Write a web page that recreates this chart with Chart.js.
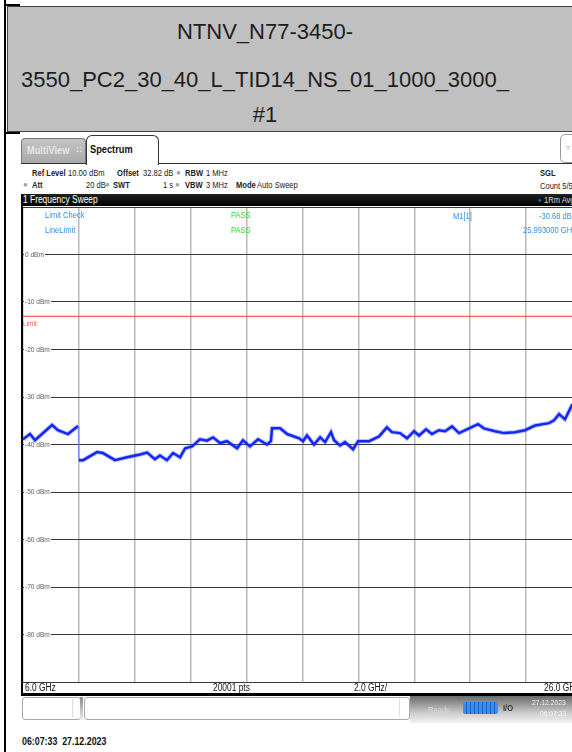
<!DOCTYPE html>
<html>
<head>
<meta charset="utf-8">
<script src="https://cdn.jsdelivr.net/npm/chart.js@4.4.0/dist/chart.umd.min.js"></script>
<style>
  body { margin:0; width:572px; height:752px; overflow:hidden; background:#fff; position:relative;
         font-family:"Liberation Sans",Arial,sans-serif; color:#222; }
  .a { position:absolute; white-space:nowrap; }
  .n { transform:scaleX(0.84); transform-origin:0 50%; }
  .hdr { position:absolute; left:7px; width:516px; text-align:center; font:22px/22px "Liberation Sans",Arial,sans-serif; color:#1e1e1e; }
  .s9 { font-size:9px; line-height:10px; }
  .b { font-weight:bold; }
  .dot { color:#a0a0a0; font-size:8px; line-height:10px; }
  .blu { color:#3391e6; font-size:9px; line-height:10px; }
  .grn { color:#2bd62b; font-size:9px; line-height:10px; }
  .ax { font-size:10px; line-height:11px; color:#111; }
</style>
</head>
<body>

<!-- page / table frame -->
<div class="a" style="left:4px;top:0;width:2px;height:752px;background:#000"></div>
<div class="a" style="left:4px;top:4px;width:16px;height:2px;background:#000"></div>
<div class="a" style="left:4px;top:132px;width:16px;height:2px;background:#000"></div>

<!-- title cell -->
<div class="a" style="left:7px;top:6px;width:580px;height:124px;background:#c0c0c0;border-top:1px solid #444;border-bottom:1px solid #444;border-left:1px solid #444"></div>
<div class="hdr" style="top:21px">NTNV_N77-3450-</div>
<div class="hdr" style="top:69px">3550_PC2_30_40_L_TID14_NS_01_1000_3000_</div>
<div class="hdr" style="top:104px">#1</div>

<!-- tabs -->
<div class="a" style="left:21px;top:163px;width:560px;height:1px;background:#333"></div>
<div class="a" style="left:21px;top:138px;width:63px;height:24px;background:linear-gradient(#c4c4c4,#a9a9a9);border:1px solid #777;border-bottom:none;border-radius:4px 4px 0 0"></div>
<div class="a b n" style="left:27px;top:144px;font-size:11px;line-height:12px;color:#e6e6e6">MultiView</div>
<div class="a b" style="left:76px;top:143px;font-size:9px;line-height:12px;color:#e6e6e6">::</div>
<div class="a" style="left:86px;top:135px;width:71px;height:29px;background:#fff;border:1px solid #333;border-bottom:none;border-radius:6px 6px 0 0"></div>
<div class="a b n" style="left:90px;top:143px;font-size:11px;line-height:12px;color:#111">Spectrum</div>
<div class="a" style="left:560px;top:134px;width:20px;height:27px;border:1px solid #999;border-radius:5px;background:#fff"></div>
<div class="a" style="left:566px;top:143px;font-size:8px;color:#aaa">▿</div>

<!-- settings lines -->
<div class="a s9 b n" style="left:32px;top:168px">Ref Level</div>
<div class="a s9 n" style="left:68px;top:168px">10.00 dBm</div>
<div class="a s9 b n" style="left:117px;top:168px">Offset</div>
<div class="a s9 n" style="left:143px;top:168px">32.82 dB</div>
<div class="a dot" style="left:176px;top:168px">●</div>
<div class="a s9 b n" style="left:185px;top:168px">RBW</div>
<div class="a s9 n" style="left:206px;top:168px">1 MHz</div>
<div class="a s9 b n" style="left:540px;top:168px">SGL</div>

<div class="a dot" style="left:23px;top:180px">●</div>
<div class="a s9 b n" style="left:32px;top:180px">Att</div>
<div class="a s9 n" style="left:86px;top:180px">20 dB</div>
<div class="a dot" style="left:105px;top:180px">●</div>
<div class="a s9 b n" style="left:113px;top:180px">SWT</div>
<div class="a s9 n" style="left:163px;top:180px">1 s</div>
<div class="a dot" style="left:175px;top:180px">●</div>
<div class="a s9 b n" style="left:185px;top:180px">VBW</div>
<div class="a s9 n" style="left:206px;top:180px">3 MHz</div>
<div class="a s9 b n" style="left:236px;top:180px">Mode</div>
<div class="a s9 n" style="left:257px;top:180px">Auto Sweep</div>
<div class="a s9 n" style="left:540px;top:181px">Count 5/5</div>

<!-- sweep title bar -->
<div class="a" style="left:21px;top:194px;width:560px;height:12px;background:linear-gradient(#222,#000)"></div>
<div class="a n" style="left:23px;top:194px;font-size:10px;line-height:12px;color:#fff">1 Frequency Sweep</div>
<div class="a" style="left:538px;top:194px;font-size:6px;line-height:12px;color:#2a6cff">●</div>
<div class="a n" style="left:544px;top:194px;font-size:9px;line-height:12px;color:#ddd">1Rm Avg</div>

<!-- plot -->
<canvas id="spectrumGraph" width="559" height="478" style="position:absolute;left:23px;top:205px"></canvas>
<div class="a" style="left:21px;top:194px;width:2px;height:502px;background:#000"></div>

<div class="a blu n" style="left:45px;top:210px">Limit Check</div>
<div class="a grn n" style="left:231px;top:210px">PASS</div>
<div class="a blu n" style="left:45px;top:225px">LineLimit</div>
<div class="a grn n" style="left:231px;top:225px">PASS</div>
<div class="a blu n" style="left:453px;top:211px">M1[1]</div>
<div class="a blu n" style="left:539px;top:211px">-30.68 dBm</div>
<div class="a blu n" style="left:523px;top:225px">25.993000 GHz</div>

<!-- axis info bar -->
<div class="a ax n" style="left:25px;top:682px">6.0 GHz</div>
<div class="a ax n" style="left:213px;top:682px">20001 pts</div>
<div class="a ax n" style="left:354px;top:682px">2.0 GHz/</div>
<div class="a ax n" style="left:544px;top:682px">26.0 GHz</div>
<div class="a" style="left:21px;top:693px;width:560px;height:3px;background:#000"></div>

<!-- status bar -->
<div class="a" style="left:22px;top:697px;width:57px;height:21px;border:1px solid #aaa;border-radius:3px"></div>
<div class="a" style="left:72px;top:699px;width:1px;height:18px;background:#ddd"></div>
<div class="a" style="left:80px;top:697px;width:3px;height:23px;background:linear-gradient(#888,#eee)"></div>
<div class="a" style="left:84px;top:697px;width:324px;height:21px;border:1px solid #aaa;border-radius:3px"></div>
<div class="a" style="left:399px;top:699px;width:1px;height:18px;background:#ddd"></div>
<div class="a" style="left:410px;top:696px;width:170px;height:27px;background:linear-gradient(#6a6a6a,#cfcfcf 65%,#f2f2f2)"></div>
<div class="a n" style="left:428px;top:705px;font-size:9px;color:#d8d8d8">Ready</div>
<div class="a" style="left:463px;top:702px;width:35px;height:12px;border-radius:2px;background:repeating-linear-gradient(90deg,#3a8ef0 0 3px,#1d5fc0 3px 4px)"></div>
<div class="a b n" style="left:503px;top:703px;font-size:9px;color:#333">I/O</div>
<div class="a n" style="left:532px;top:698px;font-size:8px;color:#eee">27.12.2023</div>
<div class="a n" style="left:540px;top:709px;font-size:8px;color:#f4f4f4">06:07:33</div>

<div class="a b n" style="left:22px;top:735px;font-size:10.5px;line-height:12px;color:#111">06:07:33&nbsp; 27.12.2023</div>

<script>
const spectrum_el = document.getElementById('spectrumGraph');
const ctx = spectrum_el.getContext('2d');

// trace (1Rm Avg), GHz / dBm
const freqGHz = [6.0, 6.25, 6.43, 7.04, 7.25, 7.61, 7.97, 8.0, 8.15, 8.65, 8.86, 9.29, 9.72, 10.19, 10.44,
  10.72, 10.9, 11.15, 11.37, 11.62, 11.8, 12.05, 12.33, 12.58, 12.8, 13.05, 13.3, 13.66, 13.87, 14.12,
  14.41, 14.73, 14.87, 14.91, 15.2, 15.45, 15.88, 16.02, 16.16, 16.41, 16.63, 16.81, 17.02, 17.13, 17.34,
  17.52, 17.81, 17.99, 18.38, 18.74, 19.02, 19.2, 19.49, 19.74, 19.99, 20.17, 20.42, 20.63, 20.88, 21.1,
  21.35, 21.6, 21.96, 22.28, 22.49, 22.89, 23.21, 23.6, 23.96, 24.32, 24.82, 25.0, 25.18, 25.39, 25.64, 26.0];
const levelDbm = [-38.9, -37.8, -39.1, -35.9, -37.0, -37.8, -36.1, -43.3, -43.3, -41.6, -41.8, -43.3, -42.7, -42.1, -41.7,
  -43.1, -42.3, -43.3, -41.8, -42.7, -40.8, -40.4, -38.9, -39.2, -38.5, -39.7, -39.3, -40.8, -39.1, -40.4,
  -38.9, -40.0, -39.3, -36.6, -36.6, -37.8, -38.7, -39.3, -38.1, -40.0, -38.5, -39.5, -37.4, -39.1, -40.2,
  -39.5, -41.0, -39.3, -39.3, -38.3, -36.4, -37.4, -37.6, -38.7, -37.2, -38.1, -36.8, -37.8, -37.0, -37.2,
  -36.2, -37.6, -36.6, -35.7, -36.6, -37.2, -37.6, -37.4, -37.0, -36.0, -35.5, -34.9, -33.6, -34.7, -31.7, -30.7];

const limitFreq = [6.0, 26.0];
const limitLevel = [-13, -13];
const levelTicks = [0, -10, -20, -30, -40, -50, -60, -70, -80];

const tracePoints = freqGHz.map((f, i) => ({ x: f, y: levelDbm[i] }));
const limitPoints = limitFreq.map((f, i) => ({ x: f, y: limitLevel[i] }));

// squeezed text, the analyzer uses a condensed font
function narrowText(c, txt, x, y, sx) {
  c.save();
  c.translate(x, y);
  c.scale(sx, 1);
  c.fillText(txt, 0, 0);
  c.restore();
}

// dBm labels sit inside the grid, the line starts right after the text
const levelLabels = {
  id: 'levelLabels',
  beforeDatasetsDraw(chart) {
    const y = chart.scales.y;
    const left = chart.chartArea.left;
    const c = chart.ctx;
    c.save();
    c.font = '8px "Liberation Sans", sans-serif';
    c.textBaseline = 'middle';
    levelTicks.forEach(v => {
      const py = y.getPixelForValue(v);
      const txt = v + ' dBm';
      const w = c.measureText(txt).width * 0.82;
      c.fillStyle = '#fff';
      c.fillRect(left + 1, py - 4, w + 2, 8);
      c.fillStyle = '#5a5a5a';
      narrowText(c, txt, left + 2, py, 0.82);
    });
    c.fillStyle = '#ff5a5a';
    narrowText(c, 'Limit', left, y.getPixelForValue(limitLevel[0]) + 8, 0.82);
    c.restore();
  }
};

function createChart() {
  return new Chart(ctx, {
    type: 'line',
    data: {
      datasets: [
        {
          data: limitPoints,
          borderColor: '#ff3030',
          borderWidth: 1,
          pointRadius: 0,
        },
        {
          data: tracePoints,
          borderColor: 'rgba(40,60,255,0.3)',
          borderWidth: 4.5,
          pointRadius: 0,
          segment: {
            borderColor: s => Math.abs(s.p1.parsed.y - s.p0.parsed.y) > 5 ? 'rgba(0,0,0,0)' : undefined,
          },
        },
        {
          data: tracePoints,
          borderColor: '#0a1ff0',
          borderWidth: 2.5,
          pointRadius: 0,
          segment: {
            borderColor: s => Math.abs(s.p1.parsed.y - s.p0.parsed.y) > 5 ? 'rgba(110,130,255,0.6)' : undefined,
            borderWidth: s => Math.abs(s.p1.parsed.y - s.p0.parsed.y) > 5 ? 1 : undefined,
          },
        },
      ]
    },
    options: {
      responsive: false,
      animation: false,
      layout: { padding: { top: 2, bottom: 1, left: 0, right: 0 } },
      plugins: {
        legend: { display: false },
        tooltip: { enabled: false },
      },
      scales: {
        x: {
          type: 'linear',
          min: 6,
          max: 26,
          border: { display: false },
          grid: { color: '#b9b9b9', lineWidth: 1.5, drawTicks: false },
          ticks: { display: false, stepSize: 2 },
        },
        y: {
          min: -90,
          max: 10,
          border: { display: false },
          grid: { color: '#3a3a3a', lineWidth: 1, drawTicks: false },
          ticks: { display: false, stepSize: 10 },
        },
      },
    },
    plugins: [levelLabels],
  });
}

let spectrumGraph = createChart();
</script>
</body>
</html>
